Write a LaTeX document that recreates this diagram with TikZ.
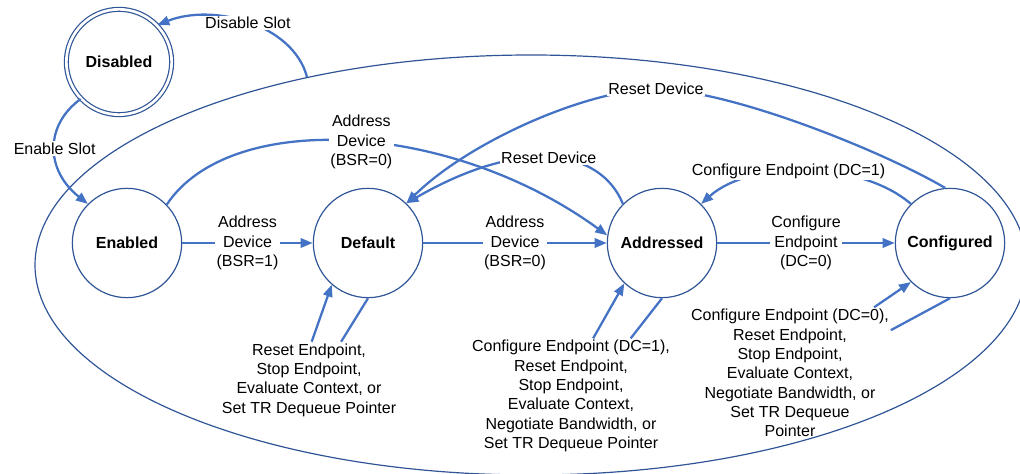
\documentclass[tikz,border=0pt]{standalone}
\usepackage{fontspec}
\setmainfont{Liberation Sans}
\usetikzlibrary{arrows.meta,shapes.geometric}

\definecolor{arrowblue}{RGB}{68,114,196}
\definecolor{ringblue}{RGB}{47,85,151}

\tikzset{
	state/.style={circle, draw=ringblue, line width=0.9pt, minimum size=82pt, inner sep=0pt, font=\fontsize{12}{14.5}\selectfont\bfseries},
	endstate/.style={state, double=white, double distance=2pt, minimum size=79pt},
	trans/.style={draw=arrowblue, line width=1.7pt, -{Triangle[length=9pt,width=7pt]}},
	transline/.style={draw=arrowblue, line width=1.7pt},
	lbl/.style={fill=white, inner sep=1pt, align=center, font=\fontsize{12}{14.5}\selectfont},
	cmd/.style={inner sep=1pt, align=center, font=\fontsize{12}{14.5}\selectfont}}
\tikzset{every picture/.style={line width=0.75pt}}

\begin{document}
\begin{tikzpicture}[x=0.75pt,y=0.75pt,yscale=-1,xscale=1]
	\useasboundingbox (0,0) rectangle (1020,474);

	%Shape: Ellipse [slot]
	\node [ellipse, draw=ringblue, line width=0.9pt, minimum width=744pt, minimum height=315pt, inner sep=0pt] (slot) at (531,265) {};
	%Shape: Circle [dis]
	\node [endstate] (dis) at (119,62) {Disabled};
	%Shape: Circle [en]
	\node [state] (en) at (127,243) {Enabled};
	%Shape: Circle [def]
	\node [state] (def) at (368,243) {Default};
	%Shape: Circle [add]
	\node [state] (add) at (662,243) {Addressed};
	%Shape: Circle [conf]
	\node [state] (conf) at (950,243) {Configured};

	% Text Node
	\node [cmd] (defcmd) at (309,380) {Reset Endpoint,\\Stop Endpoint,\\Evaluate Context, or\\Set TR Dequeue Pointer};
	% Text Node
	\node [cmd] (addcmd) at (571,396) {Configure Endpoint (DC=1),\\Reset Endpoint,\\Stop Endpoint,\\Evaluate Context,\\Negotiate Bandwidth, or\\Set TR Dequeue Pointer};
	% Text Node
	\node [cmd] (confcmd) at (790,373) {Configure Endpoint (DC=0),\\Reset Endpoint,\\Stop Endpoint,\\Evaluate Context,\\Negotiate Bandwidth, or\\Set TR Dequeue\\Pointer};

	\coordinate (rdtop) at (656,89);

	%Curve Lines [dis]
	\draw [trans] (slot.140) .. controls +(-14,-53) and +(56,-22) .. (dis.44) node [lbl, pos=0.5] (dslbl) {Disable Slot};
	\draw [trans] (dis.224) .. controls +(-36,26) and +(-43,-34) .. (en.135) node [lbl, pos=0.5] (eslbl) {Enable Slot};
	%Straight Lines [row]
	\draw [trans] (en) -- node [lbl] (adlbl1) {Address\\Device\\(BSR=1)} (def);
	\draw [trans] (def) -- node [lbl] (adlbl2) {Address\\Device\\(BSR=0)} (add);
	\draw [trans] (add) -- node [lbl] (celbl0) {Configure\\Endpoint\\(DC=0)} (conf);
	%Curve Lines [over]
	\draw [trans] (en.44) .. controls +(63,-95) and +(-158,-115) .. (add.172) node [lbl, pos=0.52] (adlbl3) {Address\\Device\\(BSR=0)};
	\draw [trans] (add.135) .. controls +(-23,-56) and +(114,-66) .. (def.46) node [lbl, pos=0.5] (rdlbl1) {Reset Device};
	\draw [trans] (conf.95) .. controls +(-65,-38) and +(74,1) .. (rdtop) node [lbl] (rdlbl2) {Reset Device} .. controls +(-66,0) and +(64,-63) .. (def.46);
	\draw [trans] (conf.135) .. controls +(-51,-44) and +(49,-44) .. (add.45) node [lbl, pos=0.57] (celbl1) {Configure Endpoint (DC=1)};
	%Straight Lines [loops]
	\draw [transline] (def.270) -- (defcmd.50);
	\draw [trans] (defcmd.86) -- (def.229);
	\draw [transline] (add.270) -- (addcmd.44);
	\draw [trans] (addcmd.69) -- (add.227);
	\draw [transline] (conf.270) -- (confcmd.23);
	\draw [trans] (confcmd.38) -- (conf.225);

\end{tikzpicture}
\end{document}
